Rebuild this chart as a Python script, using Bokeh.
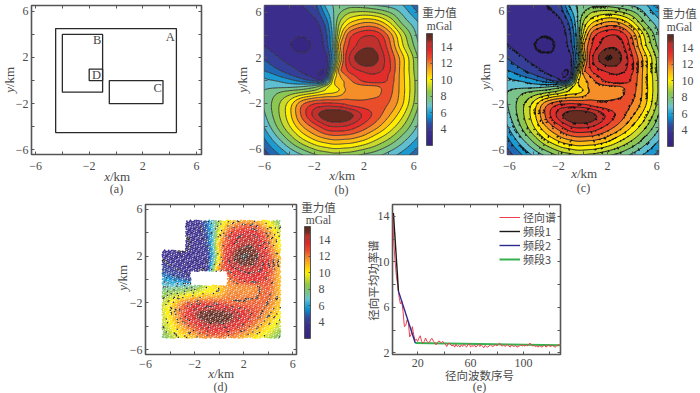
import numpy as np
from bokeh.embed import file_html
from bokeh.resources import INLINE
from bokeh.layouts import column, row
from bokeh.plotting import figure
from bokeh.core.properties import value
from bokeh.models import (ColorBar, FixedTicker, Label, Legend, LegendItem, LinearAxis,
                          LinearColorMapper, Spacer)

# ---------- data ----------
grid_x = [-6, -5, -4, -3, -2, -1.5, -1, -0.5, 0, 0.5, 1, 2, 3, 4, 5, 6]
grid_y = [-6, -5, -4, -3, -2, -1, -0.5, 0, 0.5, 1, 2, 3, 4, 5, 6]
row_p60 = [3.4, 3.3, 3.3, 3.5, 3.9, 4.8, 6.0, 7.0, 7.8, 8.4, 8.8, 9.0, 8.7, 8.0, 7.0, 5.8]
row_p50 = [3.4, 3.3, 3.2, 3.2, 3.4, 3.9, 5.0, 6.8, 8.8, 10.0, 10.8, 11.6, 11.4, 10.0, 8.0, 6.8]
row_p40 = [3.5, 3.1, 3.0, 2.9, 3.1, 3.5, 4.5, 6.5, 9.7, 11.8, 13.0, 13.8, 13.7, 12.0, 9.5, 7.5]
row_p30 = [3.7, 3.3, 2.9, 2.6, 3.0, 3.4, 4.2, 6.5, 11.0, 12.5, 13.5, 14.5, 14.4, 12.6, 10.0, 8.0]
row_p20 = [4.4, 3.8, 3.3, 3.1, 3.1, 3.3, 3.5, 6.0, 10.0, 13.0, 14.3, 15.8, 15.0, 13.2, 11.0, 8.7]
row_p10 = [5.2, 4.6, 4.0, 3.5, 3.2, 2.9, 3.3, 7.5, 11.7, 12.8, 13.6, 14.2, 14.3, 13.3, 11.0, 8.8]
row_p05 = [6.0, 5.3, 4.6, 3.9, 3.3, 2.7, 3.7, 9.0, 11.2, 12.2, 12.9, 13.7, 13.8, 13.0, 11.0, 8.9]
row_000 = [6.4, 6.2, 5.7, 5.0, 4.2, 3.7, 5.5, 10.0, 11.0, 11.5, 12.2, 13.3, 13.6, 12.9, 11.0, 9.0]
row_m05 = [6.8, 6.8, 6.8, 7.0, 7.5, 8.2, 9.3, 10.3, 10.7, 11.5, 11.8, 12.0, 12.1, 12.6, 11.0, 9.0]
row_m10 = [7.2, 7.8, 8.2, 8.6, 9.2, 9.6, 10.0, 10.2, 10.6, 11.4, 11.9, 11.9, 11.9, 12.5, 11.0, 9.0]
row_m20 = [7.3, 8.5, 10.0, 12.0, 13.0, 13.1, 13.2, 13.1, 13.0, 12.8, 12.5, 12.4, 12.5, 12.2, 10.8, 8.8]
row_m30 = [7.0, 8.5, 10.2, 12.4, 14.3, 15.0, 15.4, 15.6, 15.6, 15.4, 15.0, 13.7, 12.7, 11.5, 10.0, 8.2]
row_m40 = [6.4, 8.0, 9.6, 11.3, 12.6, 13.2, 13.8, 14.0, 14.0, 13.9, 13.6, 12.7, 11.7, 10.4, 9.0, 7.5]
row_m50 = [5.5, 7.0, 8.4, 9.8, 10.9, 11.3, 11.6, 11.8, 11.8, 11.7, 11.6, 11.0, 10.0, 9.0, 7.8, 6.6]
row_m60 = [4.6, 5.8, 7.0, 8.0, 8.9, 9.2, 9.4, 9.6, 9.6, 9.5, 9.4, 8.9, 8.3, 7.5, 6.6, 5.6]

contour_levels = [2.0, 2.85, 3.7, 4.55, 5.4, 6.25, 7.1, 7.95, 8.8, 9.65, 10.5, 11.35, 12.2, 13.05, 13.9, 14.75, 15.6]
colormap_values = [2, 3.6, 4.6, 5.5, 6.2, 6.8, 7.5, 8.5, 9.3, 10, 11, 11.8, 12.6, 13.6, 14.5, 15, 15.6]
colormap_colors = ["#35247f", "#3b2f8f", "#2f4da0", "#0a8fd0", "#2fa9d4", "#6cc3cf", "#79c38f", "#8fc74a",
                   "#cddc2a", "#fff200", "#fdb913", "#f58c2a", "#ea4e2a", "#e1282b", "#b8322c", "#6b2d22", "#5a2a20"]

rect_names = ["A", "B", "C", "D"]
rect_left = [-4.5, -4.0, -0.5, -2.0]
rect_right = [4.5, -1.0, 3.5, -1.0]
rect_bottom = [-4.5, -1.0, -2.0, 0.0]
rect_top = [4.5, 4.0, 0.0, 1.0]
rect_label_x = [4.05, -1.4, 3.1, -1.45]
rect_label_y = [3.75, 3.5, -0.6, 0.45]

spec_index = list(range(1, 129))
spec_radial = [14.2, 11.6, 10.0, 8.7, 7.9, 6.9, 6.3, 6.5, 5.6, 4.3, 4.4, 4.9, 4.7, 3.4, 3.6, 4.3, 3.6, 3.1,
               3.2, 3.0, 3.3, 3.5, 3.0, 2.85, 3.0, 3.3, 3.0, 2.9, 2.95, 3.2, 3.25, 3.0, 2.9, 2.7, 2.9, 3.05,
               2.95, 2.9, 3.0, 2.85, 2.75, 2.55, 2.8, 2.85, 2.7, 2.6, 2.7, 2.5, 2.75, 2.55, 2.65, 2.5, 2.7, 2.55,
               2.75, 2.6, 2.5, 2.7, 2.8, 2.5, 2.65, 2.55, 2.7, 2.5, 2.6, 2.75, 2.55, 2.7, 2.6, 2.45, 2.65, 2.55,
               2.5, 2.6, 2.7, 2.6, 2.55, 2.65, 2.7, 2.6, 2.75, 2.85, 2.65, 2.6, 2.7, 2.55, 2.65, 2.7, 2.6, 2.5,
               2.7, 2.6, 2.55, 2.65, 2.5, 2.55, 2.6, 2.7, 2.6, 2.65, 2.6, 2.7, 2.6, 2.75, 2.85, 2.7, 2.6, 2.65,
               2.55, 2.6, 2.5, 2.6, 2.55, 2.5, 2.6, 2.65, 2.5, 2.6, 2.7, 2.55, 2.6, 2.65, 2.55, 2.5, 2.6, 2.65, 2.75, 2.6]
band1_x, band1_y = [1.7, 5.5], [14.3, 7.43]
band2_x, band2_y = [5.5, 18.2], [7.43, 2.86]
band3_x, band3_y = [18.2, 128], [2.86, 2.66]

mask_outer = (-4.64, 5.0, -5.0, 5.05)
mask_notch = (-4.64, -2.73, 2.5, 5.05)
mask_hole = (-2.3, 0.67, -0.5, 0.7)

# ---------- helpers ----------
GREY = "#555555"
TXT = "#4a4a4a"
SERIF = "Liberation Serif"
CJK = "Noto Sans CJK SC"


def hex2rgb(h):
    return [int(h[i:i + 2], 16) for i in (1, 3, 5)]


def colour_at(v):
    rgb = np.array([hex2rgb(c) for c in colormap_colors], float)
    out = [np.interp(v, colormap_values, rgb[:, k]) for k in range(3)]
    return "#%02x%02x%02x" % tuple(int(round(c)) for c in out)


palette = [colour_at(v) for v in np.linspace(2, 15.6, 256)]
band_colours = [colour_at((a + b) / 2) for a, b in zip(contour_levels[:-1], contour_levels[1:])]


def catmull(a, n):
    """Smooth drawing of the read grid: subdivide each cell of axis 0 in n steps."""
    pts = []
    m = a.shape[0]
    for i in range(m - 1):
        p0, p1, p2, p3 = a[max(i - 1, 0)], a[i], a[i + 1], a[min(i + 2, m - 1)]
        for t in np.arange(n) / n:
            pts.append(0.5 * (2 * p1 + (p2 - p0) * t + (2 * p0 - 5 * p1 + 4 * p2 - p3) * t ** 2
                              + (3 * p1 - p0 - 3 * p2 + p3) * t ** 3))
    pts.append(a[-1])
    return np.array(pts)


def soften(a, passes=2):
    k = np.array([1, 4, 6, 4, 1]) / 16
    for _ in range(passes):
        a = np.apply_along_axis(lambda r: np.convolve(np.pad(r, 2, mode="edge"), k, mode="valid"), 0, a)
        a = np.apply_along_axis(lambda r: np.convolve(np.pad(r, 2, mode="edge"), k, mode="valid"), 1, a)
    return a


rows = [row_m60, row_m50, row_m40, row_m30, row_m20, row_m10, row_m05, row_000, row_p05, row_p10,
        row_p20, row_p30, row_p40, row_p50, row_p60]
raw = np.pad(np.array(rows, float), 1, mode="reflect", reflect_type="odd")
N = 8
fine = soften(catmull(catmull(raw, N).T, N).T)
coord_x = np.pad(np.array(grid_x, float), 1, mode="reflect", reflect_type="odd")
coord_y = np.pad(np.array(grid_y, float), 1, mode="reflect", reflect_type="odd")
fx = catmull(coord_x, N)
fy = catmull(coord_y, N)
field = np.clip(fine, 2.02, 15.58)


def stipple(npts, x0, x1, y0, y1):
    """Deterministic low-discrepancy sample positions for the speckled texture."""
    g = 1.32471795724474602596
    u = (0.5 + np.arange(npts) / g) % 1
    v = (0.5 + np.arange(npts) / g ** 2) % 1
    return x0 + u * (x1 - x0), y0 + v * (y1 - y0)


def sample(xs, ys):
    return field[np.clip(np.searchsorted(fy, ys), 0, len(fy) - 1), np.clip(np.searchsorted(fx, xs), 0, len(fx) - 1)]


def near_level(zs, tol):
    return np.min(np.abs(zs[:, None] - np.array(contour_levels)), axis=1) < tol


def panel(width, height, frame_l, frame_r, frame_t, frame_b, xr, yr):
    p = figure(width=width, height=height, x_range=xr, y_range=yr, toolbar_location=None,
               output_backend="svg", min_border_left=frame_l, min_border_right=frame_r,
               min_border_top=frame_t, min_border_bottom=frame_b)
    p.grid.visible = False
    p.xaxis.visible = False
    p.yaxis.visible = False
    p.outline_line_color = GREY
    p.outline_line_width = 1.6
    p.background_fill_color = "white"
    return p


def add_axes(p, xticks, xlabelled, yticks, ylabelled, below=7):
    for side, ticks, labelled in (("below", xticks, xlabelled), ("left", yticks, ylabelled),
                                  ("above", xticks, []), ("right", yticks, [])):
        ax = LinearAxis(ticker=FixedTicker(ticks=ticks))
        ax.major_label_overrides = {t: (str(t).replace("-", "\u2212") if t in labelled else "") for t in ticks}
        ax.major_tick_in, ax.major_tick_out = 3, 0
        ax.minor_tick_line_color = None
        ax.axis_line_color = None
        ax.major_tick_line_color = GREY
        ax.major_label_text_font = SERIF
        ax.major_label_text_font_size = "12px"
        ax.major_label_text_color = TXT
        ax.major_label_standoff = below if side == "below" else 3
        if side in ("above", "right"):
            ax.major_label_text_font_size = "0px"
            ax.major_label_standoff = 0
        p.add_layout(ax, side)


def lab(p, x, y, text, size="12.5px"):
    p.add_layout(Label(x=x, y=y, text=text, text_font=SERIF, text_font_size=size,
                       text_color=TXT, text_align="center", text_baseline="middle"))


def colourbar(p, x, y):
    cm = LinearColorMapper(palette=palette, low=2, high=15.6)
    cb = ColorBar(color_mapper=cm, ticker=FixedTicker(ticks=[4, 6, 8, 10, 12, 14]), width=6, height=112,
                  location=(x, y), padding=0, margin=0, label_standoff=8,
                  major_label_text_font=SERIF, major_label_text_font_size="12px",
                  major_label_text_color=TXT, bar_line_color=GREY, major_tick_line_color=GREY,
                  major_tick_in=2, minor_tick_line_color=None, background_fill_alpha=0, border_line_color=None)
    p.add_layout(cb, "center")


t = [-6, -4, -2, 0, 2, 4, 6]
tl = [-6, -2, 2, 6]

# (a)
pa = panel(235, 195, 31, 34, 5, 38, (-6.3, 6.37), (-6.4, 6.5))
pa.quad(left=rect_left, right=rect_right, bottom=rect_bottom, top=rect_top, fill_alpha=0,
        line_color="#2a2a2a", line_width=1.3)
for n, x, y in zip(rect_names, rect_label_x, rect_label_y):
    lab(pa, x, y, n)
add_axes(pa, t, tl, t, tl)

# (b)
pb = panel(235, 195, 29, 53, 4, 38, (-6.0, 6.3), (-6.5, 6.6))
pb.contour(fx, fy, field, levels=contour_levels, fill_color=band_colours, line_color="#222222", line_width=0.8)
add_axes(pb, t, tl, t, tl)
colourbar(pb, 162, 9)

# (c)
pc = panel(230, 195, 37, 42, 4, 41, (-6.15, 6.15), (-6.35, 6.5))
pc.contour(fx, fy, field, levels=contour_levels, fill_color=band_colours, line_color="#111111", line_width=1.0)
cx, cy = stipple(14000, -6.15, 6.15, -6.35, 6.5)
cnear = near_level(sample(cx, cy), 0.03)
pc.scatter(cx[cnear], cy[cnear], marker="circle", size=1.6, line_color=None, fill_color="#111111")
add_axes(pc, t, tl, t, tl)
colourbar(pc, 160, 8)

# (d)  the speckle cannot be read dot by dot: a deterministic point set samples the read field
pd = panel(245, 198, 35, 59, 9, 39, (-6.0, 6.3), (-6.4, 6.4))
xs, ys = stipple(6500, mask_outer[0], mask_outer[1], mask_outer[2], mask_outer[3])
in_notch = (xs <= mask_notch[1]) & (ys >= mask_notch[2])
in_hole = (xs >= mask_hole[0]) & (xs <= mask_hole[1]) & (ys >= mask_hole[2]) & (ys <= mask_hole[3])
keep = ~(in_notch | in_hole)
xs, ys = xs[keep], ys[keep]
zs = sample(xs, ys)
near = near_level(zs, 0.035)
pd.scatter(xs[~near], ys[~near], marker="circle", size=1.7, line_color=None,
           fill_color=[colour_at(z) for z in zs[~near]])
pd.scatter(xs[near], ys[near], marker="circle", size=1.5, line_color=None, fill_color="#222222")
add_axes(pd, t, tl, t, tl, below=5)
colourbar(pd, 159, 16)

# (e)
ex = [20, 40, 60, 80, 100, 120]
el = [20, 60, 100]
ey = [2, 4, 6, 8, 10, 12, 14]
eyl = [2, 6, 10, 14]
pe = panel(225, 198, 37, 20, 9, 37, (1, 128), (1.85, 15.05))
r3 = pe.line(band3_x, band3_y, line_color="#35b04f", line_width=2.0)
r0 = pe.line(spec_index, spec_radial, line_color="#ee3f4d", line_width=1.0)
r1 = pe.line(band1_x, band1_y, line_color="#1a1a1a", line_width=1.4)
r2 = pe.line(band2_x, band2_y, line_color="#2a2a8f", line_width=1.4)
add_axes(pe, ex, el, ey, eyl, below=4)
for name, rend, yoff in (("\u5f84\u5411\u8c31", r0, 129), ("\u9891\u6bb51", r1, 115),
                         ("\u9891\u6bb52", r2, 101), ("\u9891\u6bb53", r3, 87)):
    pe.add_layout(Legend(items=[LegendItem(label=name, renderers=[rend])], location=(107, yoff),
                         background_fill_alpha=0, border_line_color=None, glyph_width=21, glyph_height=12,
                         label_standoff=3, padding=0, margin=0, label_text_font=CJK,
                         label_text_font_size="11px", label_text_color=TXT, label_height=12), "center")

# transparent sheet over the whole page, in page pixels, for texts outside the frames
sheet = figure(width=700, height=393, x_range=(0, 700), y_range=(393, 0), toolbar_location=None,
               output_backend="svg", x_axis_type=None, y_axis_type=None, min_border=0,
               styles={"position": "absolute", "left": "0px", "top": "0px"})
sheet.grid.visible = False
sheet.outline_line_color = None
sheet.background_fill_alpha = 0
sheet.border_fill_alpha = 0


def txt(x, y, s, font=SERIF, size="12px", style="normal", align="center", angle=0.0):
    sheet.text(x=[x], y=[y], text=[s], text_font=value(font), text_font_size=value(size), text_font_style=style,
               text_color=TXT, text_align=align, text_baseline="middle", angle=angle)


def km_x(cx, cy):
    txt(cx - 6.5, cy, "x", size="13px", style="italic", align="right")
    txt(cx - 6.5, cy, "/km", size="13px", align="left")


def km_y(cx, cy):
    txt(cx, cy + 6.5, "y", size="13px", style="italic", align="right", angle=np.pi / 2)
    txt(cx, cy + 6.5, "/km", size="13px", align="left", angle=np.pi / 2)


def header(cx, y1, y2):
    txt(cx, y1, "\u91cd\u529b\u503c", font=CJK, size="11.5px")
    txt(cx, y2, "mGal", size="11.5px")


km_x(116, 176); km_y(9, 80); txt(116, 188, "(a)")
km_x(341, 175); km_y(242, 80); txt(341, 189, "(b)"); header(439, 11, 25)
km_x(583, 173); km_y(485, 77); txt(583, 187, "(c)"); header(679, 12, 26)
km_x(220, 373); km_y(122, 278); txt(220, 386, "(d)"); header(318, 206, 219)
txt(479, 374, "\u5f84\u5411\u6ce2\u6570\u5e8f\u53f7", font=CJK, size="11.5px")
txt(479, 386, "(e)")
txt(372, 280, "\u5f84\u5411\u5e73\u5747\u529f\u7387\u8c31", font=CJK, size="11.5px", angle=np.pi / 2)

layout = column(row(pa, pb, pc, spacing=0),
                row(Spacer(width=110, height=198), pd, pe, spacing=0),
                spacing=0, styles={"position": "absolute", "left": "0px", "top": "0px"})
open("out.html", "w").write(file_html([layout, sheet], INLINE))
